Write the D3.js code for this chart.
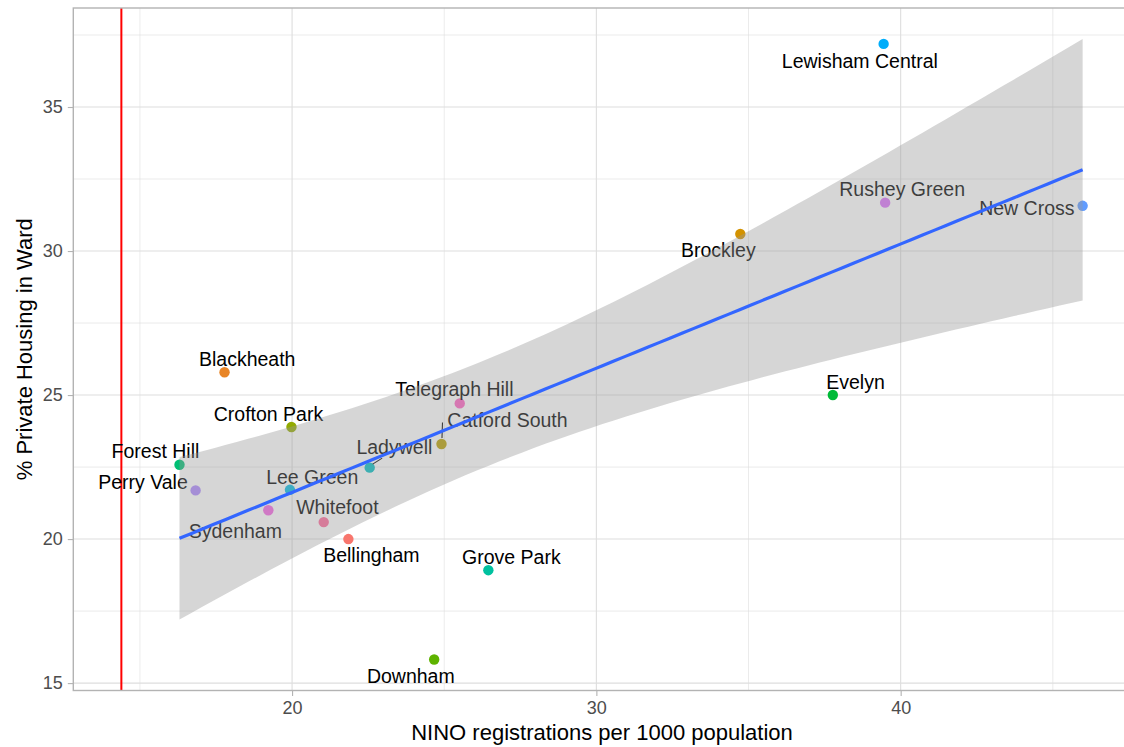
<!DOCTYPE html>
<html>
<head>
<meta charset="utf-8">
<script src="https://cdn.jsdelivr.net/npm/d3@7"></script>
<style>
  html, body { margin: 0; padding: 0; background: #ffffff; }
  svg { display: block; font-family: "Liberation Sans", Arial, sans-serif; }
</style>
</head>
<body>
<svg id="chart" width="1124" height="747"></svg>
<script>
// Lewisham wards: NINO registrations vs share of private housing
const wards = ["Bellingham", "Blackheath", "Brockley", "Catford South", "Crofton Park",
  "Downham", "Evelyn", "Forest Hill", "Grove Park", "Ladywell", "Lee Green",
  "Lewisham Central", "New Cross", "Perry Vale", "Rushey Green", "Sydenham",
  "Telegraph Hill", "Whitefoot"];
const ninoPer1000 = [21.85, 17.78, 34.73, 24.91, 19.98, 24.67, 37.77, 16.30, 26.45,
  22.55, 19.93, 39.44, 45.98, 16.83, 39.49, 19.22, 25.51, 21.04];
const privateHousingPct = [20.00, 25.79, 30.59, 23.30, 23.89, 15.82, 25.00, 22.58, 18.92,
  22.48, 21.71, 37.19, 31.57, 21.69, 31.68, 21.00, 24.71, 20.59];
const referenceNino = 14.39;

const xMajorTicks = [20, 30, 40];
const xMinorTicks = [15, 25, 35, 45];
const yMajorTicks = [15, 20, 25, 30, 35];
const yMinorTicks = [17.5, 22.5, 27.5, 32.5, 37.5];

// label placement relative to each point (px): centre x offset, baseline y offset
const labelDx = [23, 22.7, -22, 66, -23, -23.4, 22.7, -24, 23, 24.7, 22.3, -23.8, -55.8, -52.6, 17, -33, -5.3, 13.7];
const labelDy = [22.5, -6.3, 22.5, -17.3, -6.3, 24, -6.5, -6.4, -6, -14, -5.7, 24, 9.3, -1.3, -7, 28, -7.3, -8];
// leader segments drawn for labels pushed away from their points
const leaders = [
  { ward: "Catford South", x1: 0.5, y1: -6, x2: 1, y2: -21.5 },
  { ward: "Ladywell", x1: 3, y1: -3.5, x2: 12.5, y2: -9.5 }
];

const data = wards.map((w, i) => ({ ward: w, x: ninoPer1000[i], y: privateHousingPct[i], i }));

// hue palette in polar LUV space (c = 100, l = 65), as used for discrete colour scales
function polarLuvToHex(h, c, l) {
  const hr = h * Math.PI / 180;
  const u = c * Math.cos(hr), v = c * Math.sin(hr);
  const Xn = 95.047, Yn = 100, Zn = 108.883;
  const den = Xn + 15 * Yn + 3 * Zn;
  const un = 4 * Xn / den, vn = 9 * Yn / den;
  const Y = l > 8 ? Yn * Math.pow((l + 16) / 116, 3) : Yn * l / 903.2963;
  const up = u / (13 * l) + un, vp = v / (13 * l) + vn;
  const X = Y * 9 * up / (4 * vp);
  const Z = Y * (12 - 3 * up - 20 * vp) / (4 * vp);
  const x = X / 100, y = Y / 100, z = Z / 100;
  const lin = [
    3.240479 * x - 1.537150 * y - 0.498535 * z,
    -0.969256 * x + 1.875992 * y + 0.041556 * z,
    0.055648 * x - 0.204043 * y + 1.057311 * z
  ];
  const g = lin.map(c0 => {
    let s = c0 <= 0.0031308 ? 12.92 * c0 : 1.055 * Math.pow(c0, 1 / 2.4) - 0.055;
    s = Math.max(0, Math.min(1, s));
    return Math.round(s * 255);
  });
  return d3.rgb(g[0], g[1], g[2]).formatHex();
}
const palette = wards.map((w, i) => polarLuvToHex(15 + i * 360 / wards.length, 100, 65));
const colour = d3.scaleOrdinal().domain(wards).range(palette);

// linear fit with 95% confidence band
const n = data.length;
const mx = d3.mean(data, d => d.x), my = d3.mean(data, d => d.y);
const sxx = d3.sum(data, d => (d.x - mx) ** 2);
const sxy = d3.sum(data, d => (d.x - mx) * (d.y - my));
const slope = sxy / sxx, intercept = my - slope * mx;
const rss = d3.sum(data, d => (d.y - (intercept + slope * d.x)) ** 2);
const sigma = Math.sqrt(rss / (n - 2));
const tCrit = 2.119905; // 97.5% quantile of t with 16 df
const [xMin, xMax] = d3.extent(data, d => d.x);
const fit = d3.range(80).map(k => {
  const xv = xMin + (xMax - xMin) * k / 79;
  const yv = intercept + slope * xv;
  const se = sigma * Math.sqrt(1 / n + (xv - mx) ** 2 / sxx);
  return { x: xv, y: yv, lo: yv - tCrit * se, hi: yv + tCrit * se };
});

// scale domains expanded by 5% of the data range on each side
function expanded(vals) {
  const [a, b] = d3.extent(vals);
  const pad = (b - a) * 0.05;
  return [a - pad, b + pad];
}
const xDomain = expanded(ninoPer1000.concat([referenceNino]));
const yDomain = expanded(privateHousingPct.concat(fit.map(f => f.lo), fit.map(f => f.hi)));

const panel = { left: 73.3, right: 1130.7, top: 8, bottom: 690.5 };
const x = d3.scaleLinear().domain(xDomain).range([panel.left, panel.right]);
const y = d3.scaleLinear().domain(yDomain).range([panel.bottom, panel.top]);

const svg = d3.select("#chart");
svg.append("rect").attr("width", 1124).attr("height", 747).attr("fill", "#ffffff");

svg.append("clipPath").attr("id", "panel-clip")
  .append("rect")
  .attr("x", panel.left).attr("y", panel.top)
  .attr("width", panel.right - panel.left).attr("height", panel.bottom - panel.top);

const grid = svg.append("g");
grid.selectAll(".xminor").data(xMinorTicks).join("line")
  .attr("x1", d => x(d)).attr("x2", d => x(d))
  .attr("y1", panel.top).attr("y2", panel.bottom)
  .attr("stroke", "#dedede").attr("stroke-width", 0.6);
grid.selectAll(".yminor").data(yMinorTicks).join("line")
  .attr("y1", d => y(d)).attr("y2", d => y(d))
  .attr("x1", panel.left).attr("x2", panel.right)
  .attr("stroke", "#dedede").attr("stroke-width", 0.6);
grid.selectAll(".xmajor").data(xMajorTicks).join("line")
  .attr("x1", d => x(d)).attr("x2", d => x(d))
  .attr("y1", panel.top).attr("y2", panel.bottom)
  .attr("stroke", "#dedede").attr("stroke-width", 1.1);
grid.selectAll(".ymajor").data(yMajorTicks).join("line")
  .attr("y1", d => y(d)).attr("y2", d => y(d))
  .attr("x1", panel.left).attr("x2", panel.right)
  .attr("stroke", "#dedede").attr("stroke-width", 1.1);

const plot = svg.append("g").attr("clip-path", "url(#panel-clip)");

// reference line
plot.append("line")
  .attr("x1", x(referenceNino)).attr("x2", x(referenceNino))
  .attr("y1", panel.top).attr("y2", panel.bottom)
  .attr("stroke", "#ff0000").attr("stroke-width", 2);

// points
plot.selectAll("circle.pt").data(data).join("circle")
  .attr("class", "pt")
  .attr("cx", d => x(d.x)).attr("cy", d => y(d.y)).attr("r", 5.2)
  .attr("fill", d => colour(d.ward));

// leader segments and ward labels
const byWard = new Map(data.map(d => [d.ward, d]));
plot.selectAll("line.leader").data(leaders).join("line")
  .attr("class", "leader")
  .attr("x1", l => x(byWard.get(l.ward).x) + l.x1)
  .attr("y1", l => y(byWard.get(l.ward).y) + l.y1)
  .attr("x2", l => x(byWard.get(l.ward).x) + l.x2)
  .attr("y2", l => y(byWard.get(l.ward).y) + l.y2)
  .attr("stroke", "#000").attr("stroke-width", 1.1);

plot.selectAll("text.lab").data(data).join("text")
  .attr("class", "lab")
  .attr("x", d => x(d.x) + labelDx[d.i])
  .attr("y", d => y(d.y) + labelDy[d.i])
  .attr("text-anchor", "middle")
  .attr("font-size", 19.5)
  .attr("fill", "#000")
  .text(d => d.ward);

// smoother: confidence ribbon then fitted line
plot.append("path").datum(fit)
  .attr("d", d3.area().x(f => x(f.x)).y0(f => y(f.lo)).y1(f => y(f.hi)))
  .attr("fill", "#999999").attr("fill-opacity", 0.4);
plot.append("path").datum(fit)
  .attr("d", d3.line().x(f => x(f.x)).y(f => y(f.y)))
  .attr("fill", "none").attr("stroke", "#3366ff").attr("stroke-width", 3.2);

// panel border
svg.append("rect")
  .attr("x", panel.left).attr("y", panel.top)
  .attr("width", panel.right - panel.left).attr("height", panel.bottom - panel.top)
  .attr("fill", "none").attr("stroke", "#b3b3b3").attr("stroke-width", 1.4);

// axes
const xAxis = svg.append("g").attr("transform", `translate(0,${panel.bottom})`)
  .call(d3.axisBottom(x).tickValues(xMajorTicks).tickSize(5.5).tickPadding(5));
const yAxis = svg.append("g").attr("transform", `translate(${panel.left},0)`)
  .call(d3.axisLeft(y).tickValues(yMajorTicks).tickSize(5.5).tickPadding(5));
[xAxis, yAxis].forEach(a => {
  a.select(".domain").remove();
  a.selectAll(".tick line").attr("stroke", "#b3b3b3").attr("stroke-width", 1.1);
  a.selectAll(".tick text").attr("fill", "#4d4d4d")
    .attr("font-size", 18).attr("font-family", "'Liberation Sans', Arial, sans-serif");
});

svg.append("text")
  .attr("x", (panel.left + panel.right) / 2).attr("y", 740)
  .attr("text-anchor", "middle").attr("font-size", 22).attr("fill", "#000")
  .text("NINO registrations per 1000 population");
svg.append("text")
  .attr("transform", `translate(32,${(panel.top + panel.bottom) / 2}) rotate(-90)`)
  .attr("text-anchor", "middle").attr("font-size", 22).attr("fill", "#000")
  .text("% Private Housing in Ward");
</script>
</body>
</html>
